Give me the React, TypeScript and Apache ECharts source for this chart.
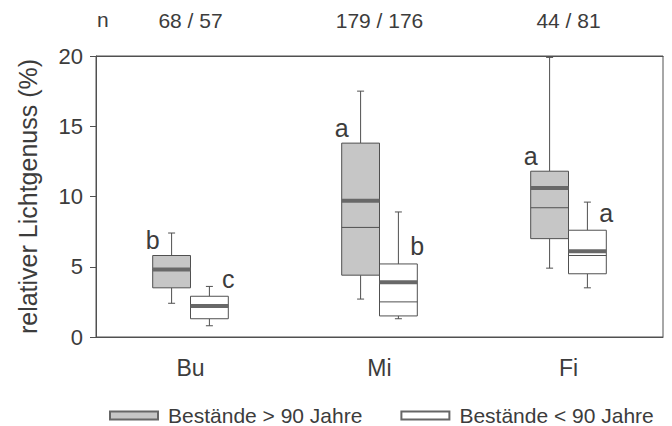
import React, { useEffect, useRef } from "react";
import * as echarts from "echarts";

// Stand types along the x axis and sample sizes (old / young)
const categories = ["Bu", "Mi", "Fi"];
const sampleSizes = ["68 / 57", "179 / 176", "44 / 81"];

// Stands older than 90 years
const oldMin = [2.4, 2.7, 4.9];
const oldQ1 = [3.5, 4.4, 7.0];
const oldMedian = [4.8, 7.8, 9.2];
const oldQ3 = [5.8, 13.8, 11.8];
const oldMax = [7.4, 17.5, 19.9];
const oldMean = [4.8, 9.7, 10.6];
const oldLetters = ["b", "a", "a"];

// Stands younger than 90 years
const youngMin = [0.8, 1.3, 3.5];
const youngQ1 = [1.3, 1.5, 4.5];
const youngMedian = [2.2, 2.5, 5.8];
const youngQ3 = [2.9, 5.2, 7.6];
const youngMax = [3.6, 8.9, 9.6];
const youngMean = [2.2, 3.9, 6.1];
const youngLetters = ["c", "b", "a"];

const yTicks = [0, 5, 10, 15, 20];

const FONT = "'Liberation Sans', Arial, Helvetica, sans-serif";
const TEXT = "#3c3c3c";
const LINE = "#505050";

function rows(mins: number[], q1: number[], med: number[], q3: number[], max: number[], mean: number[]) {
  return categories.map((_, i) => [i, mins[i], q1[i], med[i], q3[i], max[i], mean[i]]);
}

function makeRenderer(side: "left" | "right", fill: string, letters: string[]) {
  return (params: any, api: any) => {
    const idx = api.value(0);
    const band = api.size([1, 0])[0];
    const w = band * 0.2;
    const center = api.coord([idx, 0])[0];
    const x0 = side === "left" ? center - w : center;
    const xm = x0 + w / 2;
    const y = (v: number) => api.coord([idx, v])[1];
    const yMin = y(api.value(1));
    const yQ1 = y(api.value(2));
    const yMed = y(api.value(3));
    const yQ3 = y(api.value(4));
    const yMax = y(api.value(5));
    const yMean = y(api.value(6));
    const cap = 3.5;
    const thin = { stroke: LINE, lineWidth: 1 };
    const letterX = side === "left" ? x0 : x0 + w;
    const letterGap = side === "left" ? 3 : 5;
    return {
      type: "group",
      children: [
        { type: "line", shape: { x1: xm, y1: yMax, x2: xm, y2: yQ3 }, style: thin },
        { type: "line", shape: { x1: xm, y1: yQ1, x2: xm, y2: yMin }, style: thin },
        { type: "line", shape: { x1: xm - cap, y1: yMax, x2: xm + cap, y2: yMax }, style: thin },
        { type: "line", shape: { x1: xm - cap, y1: yMin, x2: xm + cap, y2: yMin }, style: thin },
        {
          type: "rect",
          shape: { x: x0, y: yQ3, width: w, height: yQ1 - yQ3 },
          style: { fill, stroke: LINE, lineWidth: 1 },
        },
        { type: "line", shape: { x1: x0, y1: yMed, x2: x0 + w, y2: yMed }, style: thin },
        {
          type: "line",
          shape: { x1: x0, y1: yMean, x2: x0 + w, y2: yMean },
          style: { stroke: "#686868", lineWidth: 4 },
        },
        {
          type: "text",
          style: {
            text: letters[params.dataIndex],
            x: letterX,
            y: yQ3 - letterGap,
            align: "center",
            verticalAlign: "bottom",
            fill: TEXT,
            font: `25px ${FONT}`,
          },
        },
      ],
    };
  };
}

export default function App() {
  const ref = useRef<HTMLDivElement>(null);

  useEffect(() => {
    if (!ref.current) return;
    const chart = echarts.init(ref.current, null, { renderer: "svg" });
    chart.setOption({
      animation: false,
      backgroundColor: "#ffffff",
      textStyle: { fontFamily: FONT, color: TEXT },
      grid: {
        left: 96,
        right: 9,
        top: 56,
        bottom: 89,
        show: true,
        borderColor: LINE,
        borderWidth: 1,
      },
      legend: {
        left: 104,
        top: 400,
        icon: "rect",
        itemWidth: 48,
        itemHeight: 8,
        itemGap: 38,
        textStyle: { fontFamily: FONT, fontSize: 21, color: TEXT, padding: [0, 0, 0, 5] },
        data: ["Bestände > 90 Jahre", "Bestände < 90 Jahre"],
      },
      graphic: [
        {
          type: "text",
          left: 97,
          top: 9,
          style: { text: "n", font: `21px ${FONT}`, fill: TEXT },
        },
      ],
      xAxis: [
        {
          type: "category",
          data: categories,
          axisLine: { lineStyle: { color: LINE } },
          axisTick: { alignWithLabel: true, length: 4, lineStyle: { color: LINE } },
          axisLabel: { fontSize: 23, color: TEXT, margin: 19, fontFamily: FONT },
        },
        {
          type: "category",
          position: "top",
          data: sampleSizes,
          axisLine: { lineStyle: { color: LINE } },
          axisTick: { show: false },
          axisLabel: { fontSize: 21, color: TEXT, margin: 25, fontFamily: FONT },
        },
      ],
      yAxis: {
        type: "value",
        min: yTicks[0],
        max: yTicks[yTicks.length - 1],
        interval: 5,
        name: "relativer Lichtgenuss (%)",
        nameLocation: "middle",
        nameGap: 56,
        nameTextStyle: { fontSize: 25, color: TEXT, fontFamily: FONT },
        splitLine: { show: false },
        axisLine: { show: true, lineStyle: { color: LINE } },
        axisTick: { show: true, length: 6, lineStyle: { color: LINE } },
        axisLabel: { fontSize: 22, color: TEXT, margin: 13, fontFamily: FONT },
      },
      series: [
        {
          name: "Bestände > 90 Jahre",
          type: "custom",
          itemStyle: { color: "#c6c6c6", borderColor: "#666", borderWidth: 1 },
          encode: { x: 0, y: [1, 2, 3, 4, 5, 6] },
          data: rows(oldMin, oldQ1, oldMedian, oldQ3, oldMax, oldMean),
          renderItem: makeRenderer("left", "#c6c6c6", oldLetters),
        },
        {
          name: "Bestände < 90 Jahre",
          type: "custom",
          itemStyle: { color: "#ffffff", borderColor: "#666", borderWidth: 1 },
          encode: { x: 0, y: [1, 2, 3, 4, 5, 6] },
          data: rows(youngMin, youngQ1, youngMedian, youngQ3, youngMax, youngMean),
          renderItem: makeRenderer("right", "#ffffff", youngLetters),
        },
      ],
    });
    return () => chart.dispose();
  }, []);

  return <div ref={ref} style={{ width: 672, height: 426, position: "absolute", left: 0, top: 0 }} />;
}
